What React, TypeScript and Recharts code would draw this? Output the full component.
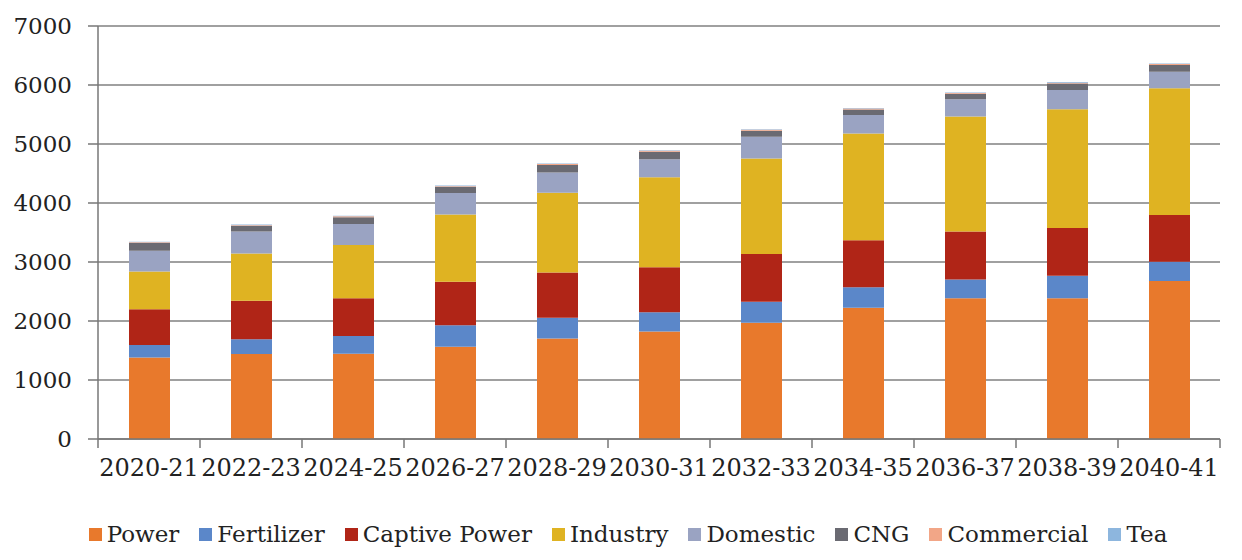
import { BarChart, Bar, XAxis, YAxis, CartesianGrid, Legend } from 'recharts'

const years = ['2020-21', '2022-23', '2024-25', '2026-27', '2028-29', '2030-31', '2032-33', '2034-35', '2036-37', '2038-39', '2040-41']

const power = [1380, 1440, 1445, 1565, 1705, 1820, 1970, 2225, 2385, 2385, 2680]
const fertilizer = [215, 250, 300, 365, 350, 330, 355, 345, 320, 380, 325]
const captivePower = [605, 655, 640, 735, 765, 760, 810, 800, 810, 810, 790]
const industry = [640, 800, 905, 1140, 1355, 1525, 1620, 1810, 1950, 2015, 2150]
const domestic = [350, 370, 355, 365, 340, 305, 370, 310, 295, 325, 280]
const cng = [130, 95, 115, 100, 130, 130, 100, 95, 90, 110, 115]
const commercial = [15, 15, 15, 15, 15, 15, 15, 15, 15, 15, 15]
const tea = [10, 10, 10, 10, 10, 10, 10, 10, 10, 10, 10]

const yTicks = [0, 1000, 2000, 3000, 4000, 5000, 6000, 7000]

const series = [
  { key: 'Power', values: power, color: '#E8792C' },
  { key: 'Fertilizer', values: fertilizer, color: '#5B87C9' },
  { key: 'Captive Power', values: captivePower, color: '#B02517' },
  { key: 'Industry', values: industry, color: '#DFB322' },
  { key: 'Domestic', values: domestic, color: '#9AA3C2' },
  { key: 'CNG', values: cng, color: '#6A6A72' },
  { key: 'Commercial', values: commercial, color: '#F2A687' },
  { key: 'Tea', values: tea, color: '#8DB6DE' },
]

const data = years.map((name, i) => {
  const row: Record<string, string | number> = { name }
  series.forEach((s) => { row[s.key] = s.values[i] })
  return row
})

const FONT = '"DejaVu Serif", serif'
const HALF_BAND = 51

function XTick(props: any) {
  const { x, y, payload, index } = props
  const last = index === years.length - 1
  return (
    <g>
      <line x1={x - HALF_BAND} x2={x - HALF_BAND} y1={y} y2={y + 9} stroke="#777" strokeWidth={1.5} />
      {last && <line x1={x + HALF_BAND} x2={x + HALF_BAND} y1={y} y2={y + 9} stroke="#777" strokeWidth={1.5} />}
      <text x={x} y={y + 37} textAnchor="middle" fontFamily={FONT} fontSize={24} fill="#222">
        {payload.value}
      </text>
    </g>
  )
}

function LegendRow() {
  return (
    <div style={{ height: 71, paddingTop: 19, paddingLeft: 36, boxSizing: 'border-box', display: 'flex', justifyContent: 'center', gap: 20, fontFamily: FONT, fontSize: 23, color: '#222', lineHeight: '26px' }}>
      {series.map((s) => (
        <span key={s.key} style={{ display: 'flex', alignItems: 'center' }}>
          <span style={{ width: 13, height: 13, background: s.color, marginRight: 5, display: 'inline-block' }} />
          {s.key}
        </span>
      ))}
    </div>
  )
}

export default function App() {
  return (
    <div style={{ position: 'absolute', left: 0, top: 0, background: '#fff' }}>
      <BarChart width={1242} height={560} data={data} margin={{ top: 26, right: 22, left: 0, bottom: 0 }} barSize={41}>
        <CartesianGrid vertical={false} stroke="#808080" strokeWidth={1.5} />
        <XAxis dataKey="name" height={50} tickLine={false} tickSize={0} tickMargin={0} interval={0} stroke="#777" strokeWidth={1.5} tick={<XTick />} />
        <YAxis width={98} domain={[0, 7000]} ticks={yTicks} tickSize={10} tickMargin={16} stroke="#777" strokeWidth={1.5}
          tick={{ fontFamily: FONT, fontSize: 23, fill: '#222' }} />
        <Legend verticalAlign="bottom" content={<LegendRow />} />
        {series.map((s) => (
          <Bar key={s.key} dataKey={s.key} stackId="a" fill={s.color} isAnimationActive={false} />
        ))}
      </BarChart>
    </div>
  )
}
